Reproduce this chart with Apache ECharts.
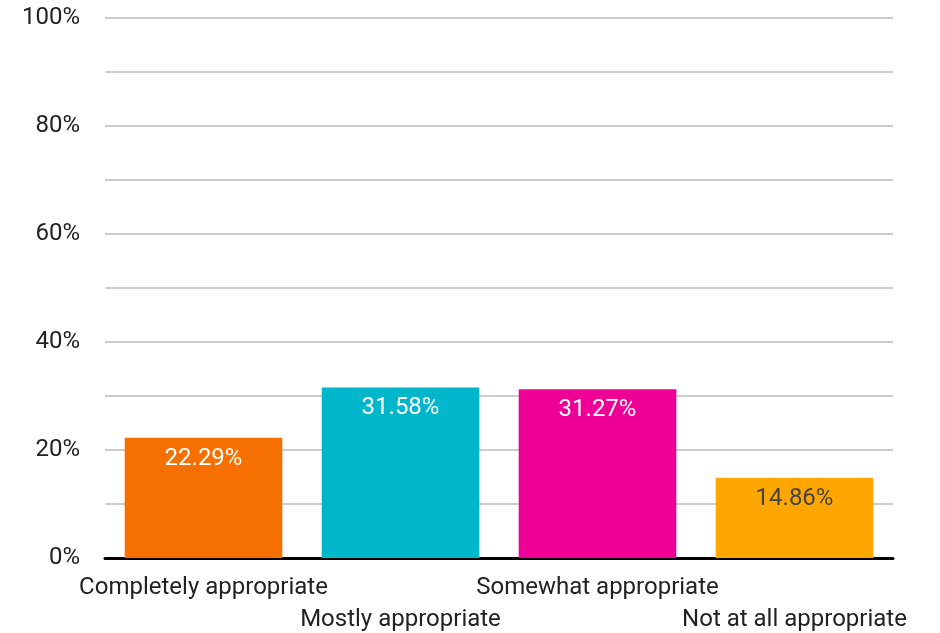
<!DOCTYPE html>
<html><head><meta charset="utf-8">
<script src="https://cdn.jsdelivr.net/npm/echarts@6/dist/echarts.min.js"></script>
<style>html,body{margin:0;padding:0;background:#fff}#c{width:940px;height:633px}</style>
</head><body><div id="c"></div>
<script>
const categories = ['Completely appropriate','Mostly appropriate','Somewhat appropriate','Not at all appropriate'];
const values = [22.29, 31.58, 31.27, 14.86];
const colors = ['#F57000','#00B6CB','#EE0096','#FFA600'];
const labelColors = ['#ffffff','#ffffff','#ffffff','#444444'];

const chart = echarts.init(document.getElementById('c'));
chart.setOption({
  animation:false,
  grid:{left:105,right:47,top:18,bottom:75,containLabel:false,outerBoundsMode:'none'},
  xAxis:{type:'category',data:categories,
    axisLine:{lineStyle:{color:'#000',width:3}},
    axisTick:{show:false},
    axisLabel:{interval:0,margin:17,hideOverlap:false,fontFamily:'Roboto',fontSize:24,color:'#222',
      formatter:(v,i)=> i%2 ? '{b|'+v+'}' : '{a|'+v+'}',
      rich:{a:{fontFamily:'Roboto',fontSize:24,color:'#222',height:26},
            b:{fontFamily:'Roboto',fontSize:24,color:'#222',height:26,padding:[32,0,0,0]}}}
  },
  yAxis:{type:'value',min:0,max:100,interval:10,
    axisLine:{show:false},axisTick:{show:false},
    splitLine:{lineStyle:{color:'#cccccc',width:2}},
    axisLabel:{margin:25,fontFamily:'Roboto',fontSize:24,color:'#222',
      formatter:v=> v%20===0 ? v+'%' : ''}
  },
  series:[{type:'bar',barCategoryGap:'20%',
    data: values.map((v,i)=>({value:v,itemStyle:{color:colors[i]},
      label:{color:labelColors[i]}})),
    label:{show:true,position:'insideTop',distance:9,fontFamily:'Roboto',fontSize:24,
      formatter:p=>p.value.toFixed(2)+'%'}
  }]
});
</script></body></html>
